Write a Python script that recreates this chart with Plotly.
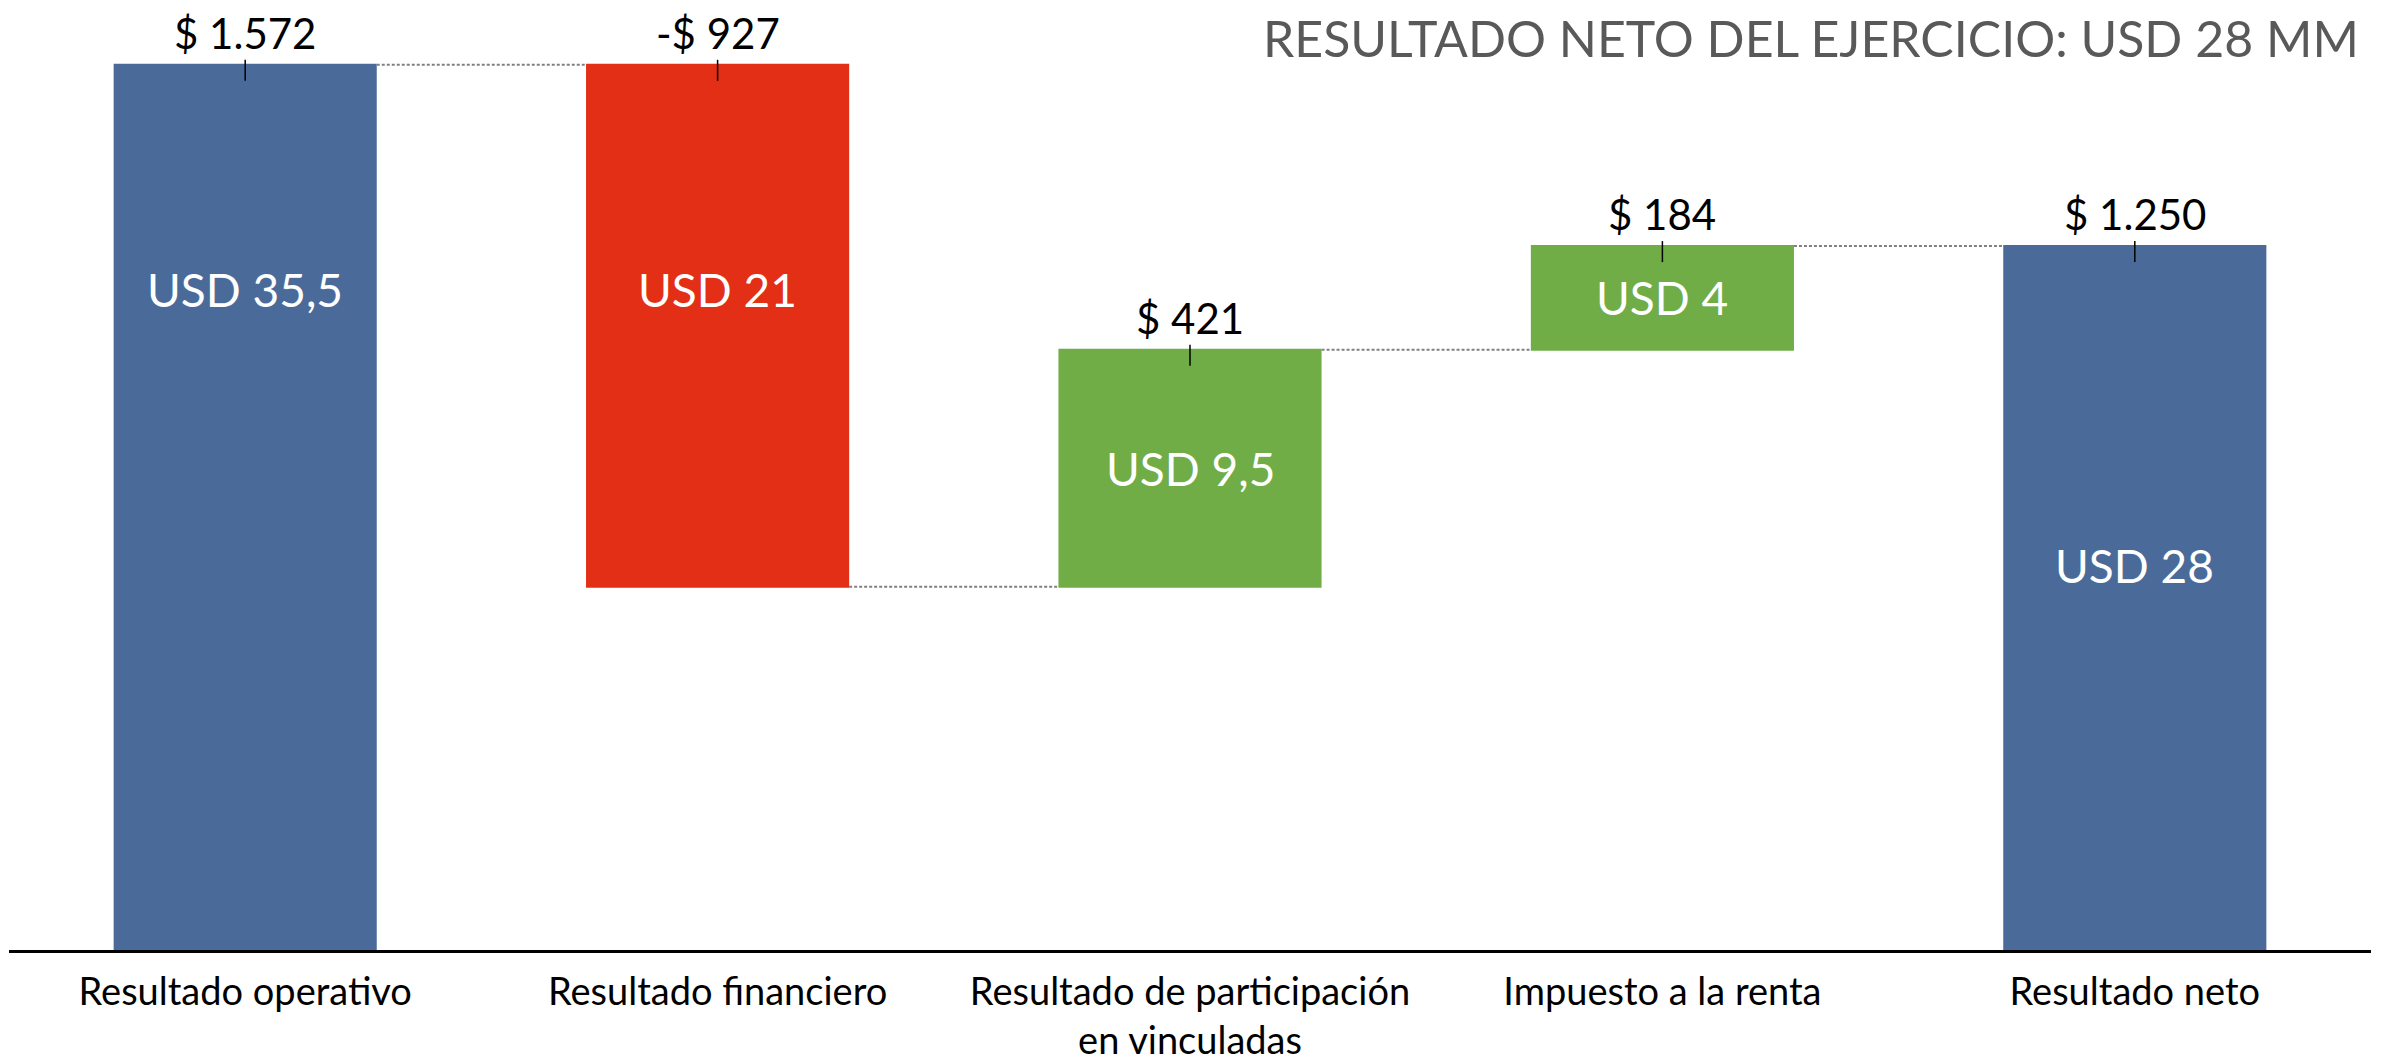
import plotly.graph_objects as go

# ---- data ----
categories = ["Resultado operativo", "Resultado financiero",
              "Resultado de participación<br>en vinculadas", "Impuesto a la renta", "Resultado neto"]
values = [1572, -927, 421, 184, 1250]
measures = ["absolute", "relative", "relative", "relative", "total"]
inner_labels = ["USD 35,5", "USD 21", "USD 9,5", "USD 4", "USD 28"]
inner_label_y = [1173, 1173, None, None, 683]   # None -> centered in bar
title_text = "RESULTADO NETO DEL EJERCICIO: USD 28 MM"

BLUE = "#4A6B9A"
RED = "#E32F16"
GREEN = "#70AD47"
FONT = "Lato"

def fmt(v):
    s = f"{abs(v):,}".replace(",", ".")
    return ("-$ " if v < 0 else "$ ") + s

# compute bar bottoms/tops
starts, ends = [], []
level = 0
for m, v in zip(measures, values):
    if m == "relative":
        s, e = level, level + v
    else:
        s, e = 0, v
    starts.append(s); ends.append(e)
    level = e

fig = go.Figure(go.Waterfall(
    x=list(range(len(categories))),
    y=values,
    measure=measures,
    width=0.557,
    increasing=dict(marker=dict(color=GREEN)),
    decreasing=dict(marker=dict(color=RED)),
    totals=dict(marker=dict(color=BLUE)),
    connector=dict(line=dict(color="#808080", width=2, dash="3px,2px")),
    hoverinfo="skip",
))

annotations = []
shapes = []
for i, v in enumerate(values):
    top = max(starts[i], ends[i])
    bot = min(starts[i], ends[i])
    annotations.append(dict(x=i, y=top, xref="x", yref="y", text=fmt(v), showarrow=False,
                            yanchor="middle", yshift=32,
                            font=dict(family=FONT, size=42, color="black")))
    yl = inner_label_y[i] if inner_label_y[i] is not None else (top + bot) / 2
    annotations.append(dict(x=i, y=yl, xref="x", yref="y", text=inner_labels[i], showarrow=False,
                            yanchor="middle",
                            font=dict(family=FONT, size=46, color="white")))
    shapes.append(dict(type="line", xref="x", yref="y", x0=i, x1=i, ysizemode="pixel",
                       yanchor=top, y0=-16, y1=5, line=dict(color="black", width=1.5)))

annotations.append(dict(x=1, y=1, xref="paper", yref="paper", text=title_text, showarrow=False,
                        xanchor="right", yanchor="middle", xshift=-10, yshift=2,
                        font=dict(family=FONT, size=50, color="#595959")))

fig.update_layout(
    width=2388, height=1064,
    margin=dict(l=1, r=25, t=32, b=122),
    paper_bgcolor="white", plot_bgcolor="white",
    showlegend=False,
    annotations=annotations,
    shapes=shapes,
    xaxis=dict(tickmode="array", tickvals=list(range(len(categories))), ticktext=categories,
               range=[-0.5, len(categories) - 0.5], showgrid=False, zeroline=False,
               showline=True, linecolor="black", linewidth=3, automargin=False,
               tickfont=dict(family=FONT, size=38, color="black"), ticks="",
               ticklabelstandoff=6),
    yaxis=dict(range=[0, 1616], visible=False, showgrid=False, zeroline=False, automargin=False),
    font=dict(family=FONT),
)

fig.write_html("out.html")
